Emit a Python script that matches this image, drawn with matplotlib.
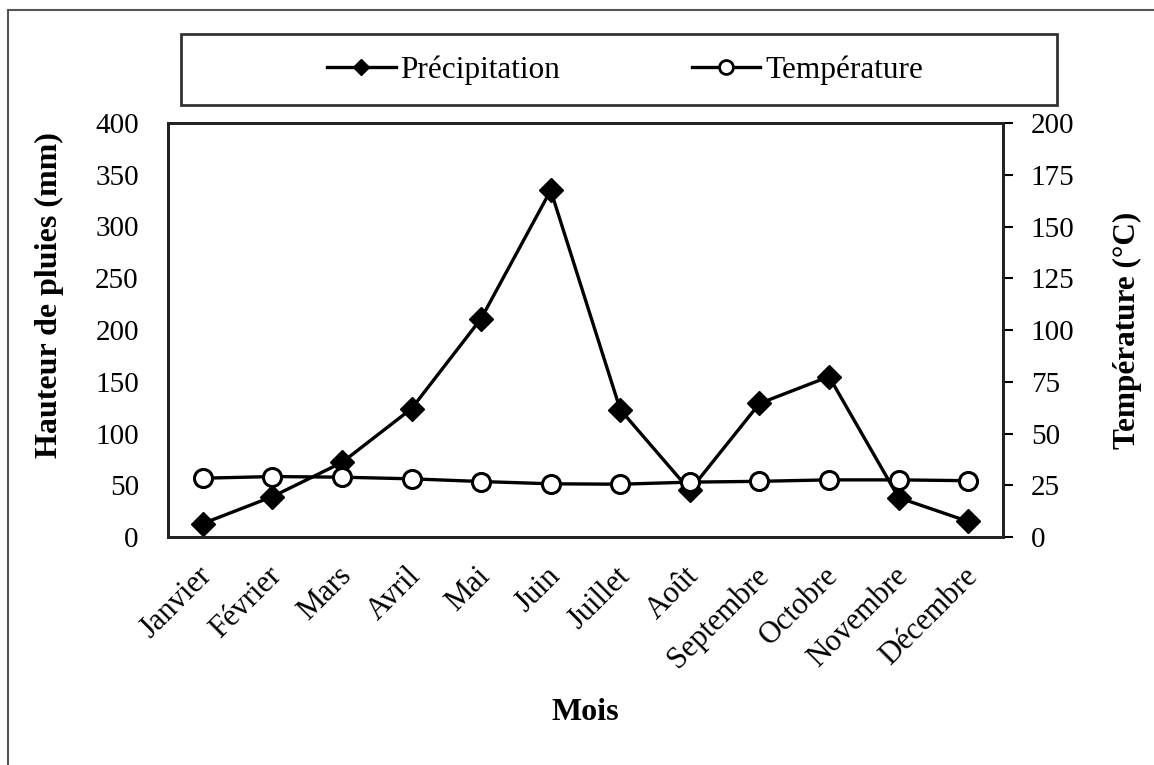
import matplotlib
matplotlib.use("Agg")
import matplotlib.pyplot as plt
import matplotlib.transforms as mtransforms
from matplotlib.lines import Line2D
from matplotlib.patches import Rectangle

months = ["Janvier", "Février", "Mars", "Avril", "Mai", "Juin", "Juillet",
          "Août", "Septembre", "Octobre", "Novembre", "Décembre"]
precipitation = [13, 39, 72, 124, 211, 335, 123, 45, 129, 155, 38, 15]
temperature = [28.4, 29.2, 28.9, 28.1, 26.8, 25.7, 25.5, 26.5, 26.9, 27.6, 27.6, 27.2]
left_ticks = [0, 50, 100, 150, 200, 250, 300, 350, 400]
right_ticks = [0, 25, 50, 75, 100, 125, 150, 175, 200]

plt.rcParams['font.family'] = ['Liberation Serif', 'DejaVu Serif']

W, H = 1154, 765
fig = plt.figure(figsize=(W / 100, H / 100), dpi=100)

def fx(px):
    return px / W

def fy(py):
    return 1 - py / H

# outer frame (left and top edges visible)
fig.add_artist(Line2D([fx(8), fx(8)], [fy(10), fy(770)], color='#555555', lw=1.5,
                      transform=fig.transFigure))
fig.add_artist(Line2D([fx(8), fx(1160)], [fy(10), fy(10)], color='#555555', lw=1.5,
                      transform=fig.transFigure))

ax = fig.add_axes([fx(168), fy(537), fx(1003) - fx(168), fy(123) - fy(537)])
ax2 = ax.twinx()

x = list(range(len(months)))
ax.plot(x, precipitation, color='black', lw=2.4, marker='D', markersize=12,
        markerfacecolor='black', markeredgecolor='black', zorder=3)
ax2.plot(x, temperature, color='black', lw=2.4, marker='o', markersize=13,
         markerfacecolor='white', markeredgecolor='black', markeredgewidth=2.2, zorder=3)

ax.set_xlim(-0.5, len(months) - 0.5)
ax.set_ylim(0, 400)
ax2.set_ylim(0, 200)
ax.set_yticks(left_ticks)
ax2.set_yticks(right_ticks)
ax.set_xticks(x)
ax.set_xticklabels(months, rotation=45, ha='right', va='center', rotation_mode='anchor',
                   fontsize=22)
ax.tick_params(axis='x', length=0, pad=25)
ax.tick_params(axis='y', length=0, pad=21, labelsize=21)
ax2.tick_params(axis='y', length=7, width=1.5, pad=13, labelsize=21, direction='out')

offset = mtransforms.ScaledTranslation(5 / 100, 0, fig.dpi_scale_trans)
for lbl in ax.get_xticklabels():
    lbl.set_transform(lbl.get_transform() + offset)

for a in (ax, ax2):
    for s in a.spines.values():
        s.set_linewidth(2)
        s.set_color('#222222')

ax.set_ylabel("Hauteur de pluies (mm)", fontsize=23, fontweight='bold')
ax.yaxis.set_label_coords((64 - 168) / 835, (537 - 295) / 414)
ax2.set_ylabel("Température (°C)", fontsize=22.5, fontweight='bold', rotation=90)
ax2.yaxis.set_label_coords((1113 - 168) / 835, (537 - 330) / 414)

fig.text(fx(585), fy(712), "Mois", fontsize=23, fontweight='bold', ha='center', va='center')

# legend box
fig.add_artist(Rectangle((fx(181), fy(105)), fx(1057) - fx(181), fy(34) - fy(105),
                         transform=fig.transFigure, fill=False, edgecolor='#333333', lw=2))
handles = [
    Line2D([], [], color='black', lw=2.4, marker='D', markersize=8, markerfacecolor='black'),
    Line2D([], [], color='black', lw=2.4, marker='o', markersize=10, markerfacecolor='white',
           markeredgewidth=2),
]
fig.legend(handles, ["Précipitation", "Température"], ncol=2, loc='center',
           bbox_to_anchor=(fx(625), fy(70)), frameon=False, fontsize=22.5,
           handlelength=2.2, handletextpad=0.15, columnspacing=4.2)

fig.savefig("out.png", dpi=100)
